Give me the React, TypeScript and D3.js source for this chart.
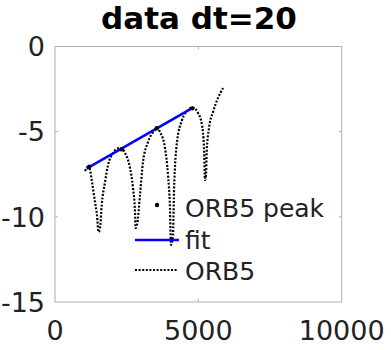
import React from "react";
import * as d3 from "d3";

// ORB5 signal (log amplitude) versus time
const orbT = [
  1046, 1151, 1221, 1291, 1395, 1465, 1517,
  1570, 1629, 1744, 1849, 2023, 2200, 2302,
  2442, 2616, 2721, 2790, 2808,
  2860, 2965, 3069, 3244, 3488, 3558,
  3662, 3837, 3941, 4011, 4046,
  4116, 4151, 4255, 4430, 4639, 4800,
  4988, 5127, 5197, 5232,
  5267, 5291, 5372, 5511, 5686, 5860,
];
const orbV = [
  -7.31, -7.07, -7.25, -7.96, -9.13, -9.89, -10.89,
  -10.66, -9.31, -7.96, -6.96, -6.25, -5.98, -5.96,
  -6.25, -7.13, -8.31, -9.72, -10.66,
  -10.48, -8.72, -6.78, -5.61, -4.9, -4.78,
  -5.02, -5.96, -7.54, -9.48, -11.65,
  -11.07, -8.54, -5.61, -4.32, -3.73, -3.58,
  -3.9, -4.61, -5.96, -7.84,
  -7.54, -6.19, -4.78, -3.85, -3.02, -2.44,
];

// detected peaks
const peakT = [1196, 2327, 3547, 4789];
const peakV = [-7.06, -6.04, -4.8, -3.63];

// linear fit through the peaks
const fitT = [1100, 4770];
const fitV = [-7.17, -3.63];

const xTicks = [0, 5000, 10000];
const yTicks = [0, -5, -10, -15];
const legendLabels = ["ORB5 peak", "fit", "ORB5"];

const W = 391;
const H = 350;
const left = 55;
const right = 341.7;
const top = 46.5;
const bottom = 302;

const font = "DejaVu Sans, sans-serif";
const boxColor = "#b0b0b0";
const textColor = "#222";

export default function App() {
  const x = d3.scaleLinear().domain([0, 10000]).range([left, right]);
  const y = d3.scaleLinear().domain([-15, 0]).range([bottom, top]);

  const orbPts: [number, number][] = orbT.map((t, i) => [t, orbV[i]]);
  const line = d3
    .line<[number, number]>()
    .x((d) => x(d[0]))
    .y((d) => y(d[1]))
    .curve(d3.curveMonotoneX);

  const fitPts: [number, number][] = fitT.map((t, i) => [t, fitV[i]]);
  const straight = d3
    .line<[number, number]>()
    .x((d) => x(d[0]))
    .y((d) => y(d[1]));

  const legX0 = 135;
  const legX1 = 179;
  const legText = 185;
  const legBase = [217, 248.5, 280];

  return (
    <svg
      width={W}
      height={H}
      style={{ position: "absolute", left: 0, top: 0, background: "#fff" }}
    >
      <text
        x={199}
        y={28.5}
        textAnchor="middle"
        fontFamily={font}
        fontWeight="bold"
        fontSize={31}
        fill="#000"
      >
        data dt=20
      </text>

      {/* axes box */}
      <rect
        x={left}
        y={top}
        width={right - left}
        height={bottom - top}
        fill="none"
        stroke={boxColor}
        strokeWidth={1}
      />
      {xTicks.slice(1, -1).map((t) => (
        <g key={"xt" + t}>
          <line x1={x(t)} x2={x(t)} y1={top} y2={top + 3} stroke={boxColor} />
          <line x1={x(t)} x2={x(t)} y1={bottom} y2={bottom - 3} stroke={boxColor} />
        </g>
      ))}
      {yTicks.slice(1, -1).map((v) => (
        <g key={"yt" + v}>
          <line x1={left} x2={left + 3} y1={y(v)} y2={y(v)} stroke={boxColor} />
          <line x1={right} x2={right - 3} y1={y(v)} y2={y(v)} stroke={boxColor} />
        </g>
      ))}
      {xTicks.map((t) => (
        <text
          key={"xl" + t}
          x={x(t)}
          y={340}
          textAnchor="middle"
          fontFamily={font}
          fontSize={27}
          fill={textColor}
        >
          {t}
        </text>
      ))}
      {yTicks.map((v) => (
        <text
          key={"yl" + v}
          x={45}
          y={y(v) + 9.7}
          textAnchor="end"
          fontFamily={font}
          fontSize={27}
          fill={textColor}
        >
          {v === 0 ? "0" : "-" + Math.abs(v)}
        </text>
      ))}

      {/* ORB5 dotted trace */}
      <path
        d={line(orbPts) || ""}
        fill="none"
        stroke="#000"
        strokeWidth={2.2}
        strokeDasharray="2 1.6"
      />
      {/* fit line */}
      <path d={straight(fitPts) || ""} fill="none" stroke="#0000ff" strokeWidth={2.5} />
      {/* peaks */}
      {peakT.map((t, i) => (
        <circle key={"pk" + i} cx={x(t)} cy={y(peakV[i])} r={2.2} fill="#000" />
      ))}

      {/* legend */}
      <circle cx={157} cy={205} r={2.2} fill="#000" />
      <line x1={legX0} x2={legX1} y1={240} y2={240} stroke="#0000ff" strokeWidth={2.5} />
      <line
        x1={legX0}
        x2={legX1 - 1}
        y1={270}
        y2={270}
        stroke="#000"
        strokeWidth={2.2}
        strokeDasharray="2 1.6"
      />
      {legendLabels.map((s, i) => (
        <text
          key={s}
          x={legText}
          y={legBase[i]}
          fontFamily={font}
          fontSize={25}
          fill={textColor}
        >
          {s}
        </text>
      ))}
    </svg>
  );
}
